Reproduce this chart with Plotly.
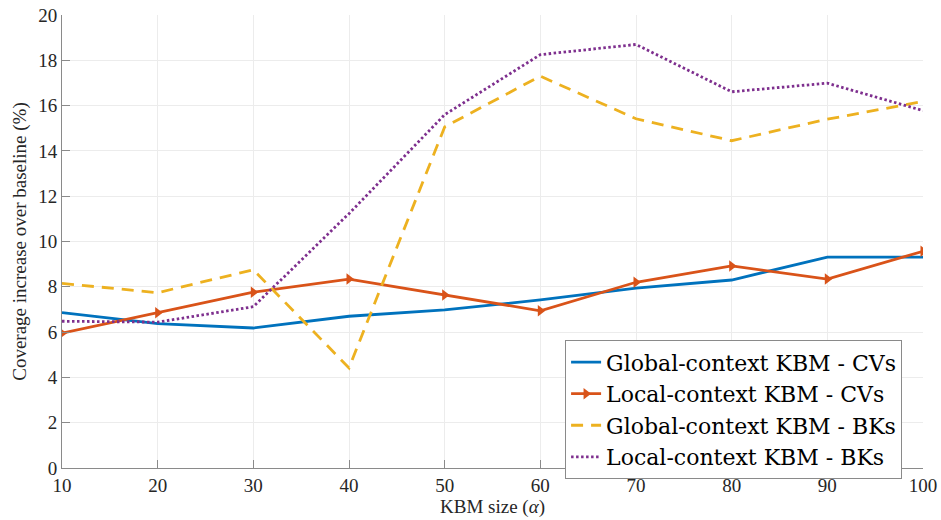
import plotly.graph_objects as go

kbm_size = [10, 20, 30, 40, 50, 60, 70, 80, 90, 100]
global_cvs = [6.86, 6.37, 6.18, 6.70, 6.98, 7.42, 7.94, 8.30, 9.31, 9.31]
local_cvs = [5.95, 6.85, 7.76, 8.34, 7.64, 6.94, 8.20, 8.92, 8.34, 9.57]
global_bks = [8.15, 7.74, 8.75, 4.42, 15.06, 17.30, 15.42, 14.45, 15.40, 16.18]
local_bks = [6.48, 6.44, 7.12, 11.23, 15.60, 18.25, 18.70, 16.61, 16.99, 15.78]

series_names = ["Global-context KBM - CVs", "Local-context KBM - CVs",
                "Global-context KBM - BKs", "Local-context KBM - BKs"]
y_ticks = [0, 2, 4, 6, 8, 10, 12, 14, 16, 18, 20]
x_ticks = [10, 20, 30, 40, 50, 60, 70, 80, 90, 100]

FONT = "Liberation Serif"
FONT_LEG = "DejaVu Serif"
fig = go.Figure()
fig.add_trace(go.Scatter(x=kbm_size, y=global_cvs, name=series_names[0], mode="lines",
                         line=dict(color="#0072BD", width=2.8)))
fig.add_trace(go.Scatter(x=kbm_size, y=local_cvs, name=series_names[1], mode="lines+markers",
                         line=dict(color="#D95319", width=2.8),
                         marker=dict(symbol="triangle-right", size=10, color="#D95319")))
fig.add_trace(go.Scatter(x=kbm_size, y=global_bks, name=series_names[2], mode="lines",
                         line=dict(color="#EDB120", width=2.8, dash="12px,8px")))
fig.add_trace(go.Scatter(x=kbm_size, y=local_bks, name=series_names[3], mode="lines",
                         line=dict(color="#7E2F8E", width=2.8, dash="2.5px,2.5px")))

axis_common = dict(showgrid=True, gridcolor="#ececec", gridwidth=1,
                   showline=True, linecolor="#8a8a8a", linewidth=1,
                   ticks="inside", ticklen=8, tickcolor="#8a8a8a",
                   tickfont=dict(family=FONT, size=19, color="#262626"),
                   zeroline=False, mirror=False, automargin=False)

fig.update_layout(
    width=941, height=520,
    margin=dict(l=62, r=18, t=15, b=52, autoexpand=False),
    plot_bgcolor="white", paper_bgcolor="white",
    font=dict(family=FONT, color="#262626"),
    xaxis=dict(range=[10, 100], tickvals=x_ticks,
               title=dict(text="KBM size (<i>α</i>)", font=dict(family=FONT, size=19), standoff=2),
               **axis_common),
    yaxis=dict(range=[0, 20], tickvals=y_ticks,
               title=dict(text="Coverage increase over baseline (%)", font=dict(family=FONT, size=19), standoff=6),
               **axis_common),
    legend=dict(x=0.78, y=0.282, xanchor="center", yanchor="top",
                bgcolor="white", bordercolor="#8a8a8a", borderwidth=1,
                font=dict(family=FONT_LEG, size=22, color="#000000"),
                tracegroupgap=0, itemwidth=30),
    showlegend=True,
)

fig.write_html("out.html", post_script="document.body.style.margin='0';",
               config={"displayModeBar": False})
